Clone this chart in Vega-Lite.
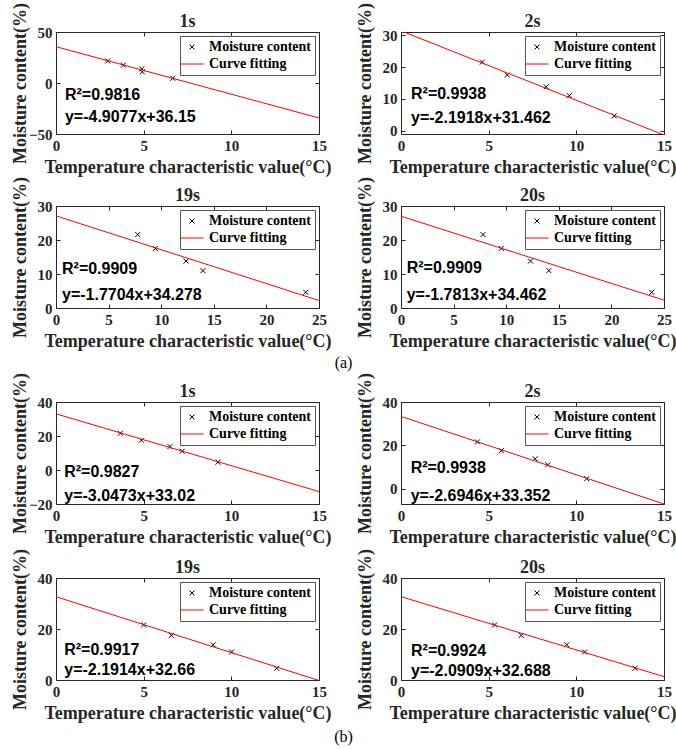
{
  "$schema": "https://vega.github.io/schema/vega-lite/v6.json",
  "padding": {"left": 10, "top": 1, "right": 2, "bottom": 2},
  "background": "white",
  "config": {
    "view": {"stroke": "#262626", "strokeWidth": 1},
    "axis": {"labelFont": "Liberation Serif", "labelFontWeight": "bold", "labelFontSize": 15, "labelColor": "#262626",
             "titleFont": "Liberation Serif", "titleFontWeight": "bold", "titleFontSize": 18, "titleColor": "#262626",
             "grid": false, "domain": false, "tickColor": "#262626", "tickSize": -4, "labelPadding": 8, "labelFlush": false, "labelOverlap": false},
    "axisLeft": {"minExtent": 24, "maxExtent": 24, "titlePadding": 3},
    "axisBottom": {"titlePadding": 5},
    "legend": {"orient": "top-right", "offset": 4, "padding": 4, "labelOffset": 9, "rowPadding": 2, "symbolStrokeWidth": 1,
               "strokeColor": "#555555", "fillColor": "white", "cornerRadius": 0,
               "labelFont": "Liberation Serif", "labelFontWeight": "bold", "labelFontSize": 14, "labelColor": "black"},
    "title": {"font": "Liberation Serif", "fontWeight": "bold", "fontSize": 18, "color": "#262626", "offset": -29, "anchor": "middle", "frame": "group"}
  },
  "datasets": {
    "points": [
      {"panel": "a1", "x": 2.95, "y": 21.6}, {"panel": "a1", "x": 3.84, "y": 17.5}, {"panel": "a1", "x": 4.89, "y": 13.8}, {"panel": "a1", "x": 4.92, "y": 11.0}, {"panel": "a1", "x": 6.66, "y": 4.6},
      {"panel": "a2", "x": 4.64, "y": 21.6}, {"panel": "a2", "x": 6.06, "y": 17.5}, {"panel": "a2", "x": 8.28, "y": 13.8}, {"panel": "a2", "x": 9.6, "y": 11.0}, {"panel": "a2", "x": 12.16, "y": 4.6},
      {"panel": "a3", "x": 7.77, "y": 21.6}, {"panel": "a3", "x": 9.44, "y": 17.5}, {"panel": "a3", "x": 12.36, "y": 13.8}, {"panel": "a3", "x": 13.97, "y": 11.0}, {"panel": "a3", "x": 23.74, "y": 4.6},
      {"panel": "a4", "x": 7.8, "y": 21.6}, {"panel": "a4", "x": 9.53, "y": 17.5}, {"panel": "a4", "x": 12.31, "y": 13.8}, {"panel": "a4", "x": 14.05, "y": 11.0}, {"panel": "a4", "x": 23.83, "y": 4.6},
      {"panel": "b1", "x": 3.67, "y": 21.6}, {"panel": "b1", "x": 4.87, "y": 17.5}, {"panel": "b1", "x": 6.5, "y": 13.8}, {"panel": "b1", "x": 7.19, "y": 11.0}, {"panel": "b1", "x": 9.24, "y": 4.6},
      {"panel": "b2", "x": 4.36, "y": 21.6}, {"panel": "b2", "x": 5.72, "y": 17.5}, {"panel": "b2", "x": 7.65, "y": 13.8}, {"panel": "b2", "x": 8.37, "y": 11.0}, {"panel": "b2", "x": 10.59, "y": 4.6},
      {"panel": "b3", "x": 5.0, "y": 21.6}, {"panel": "b3", "x": 6.58, "y": 17.5}, {"panel": "b3", "x": 8.97, "y": 13.8}, {"panel": "b3", "x": 10.02, "y": 11.0}, {"panel": "b3", "x": 12.59, "y": 4.6},
      {"panel": "b4", "x": 5.34, "y": 21.6}, {"panel": "b4", "x": 6.86, "y": 17.5}, {"panel": "b4", "x": 9.45, "y": 13.8}, {"panel": "b4", "x": 10.47, "y": 11.0}, {"panel": "b4", "x": 13.35, "y": 4.6}
    ],
    "fit": [
      {"panel": "a1", "x": 0, "y": 35.6}, {"panel": "a1", "x": 15, "y": -34.3},
      {"panel": "a2", "x": 0, "y": 31.46}, {"panel": "a2", "x": 15, "y": -1.42},
      {"panel": "a3", "x": 0, "y": 27.1}, {"panel": "a3", "x": 25, "y": 2.2},
      {"panel": "a4", "x": 0, "y": 27.0}, {"panel": "a4", "x": 25, "y": 2.3},
      {"panel": "b1", "x": 0, "y": 33.02}, {"panel": "b1", "x": 15, "y": -12.69},
      {"panel": "b2", "x": 0, "y": 33.35}, {"panel": "b2", "x": 15, "y": -7.07},
      {"panel": "b3", "x": 0, "y": 32.66}, {"panel": "b3", "x": 15, "y": -0.21},
      {"panel": "b4", "x": 0, "y": 32.69}, {"panel": "b4", "x": 15, "y": 1.32}
    ],
    "notes": [
      {"panel": "a1", "r2": "R²=0.9816", "eq": "y=-4.9077x+36.15"},
      {"panel": "a2", "r2": "R²=0.9938", "eq": "y=-2.1918x+31.462"},
      {"panel": "a3", "r2": "R²=0.9909", "eq": "y=-1.7704x+34.278"},
      {"panel": "a4", "r2": "R²=0.9909", "eq": "y=-1.7813x+34.462"},
      {"panel": "b1", "r2": "R²=0.9827", "eq": "y=-3.0473x+33.02"},
      {"panel": "b2", "r2": "R²=0.9938", "eq": "y=-2.6946x+33.352"},
      {"panel": "b3", "r2": "R²=0.9917", "eq": "y=-2.1914x+32.66"},
      {"panel": "b4", "r2": "R²=0.9924", "eq": "y=-2.0909x+32.688"}
    ]
  },
  "resolve": {"scale": {"color": "independent", "shape": "independent", "size": "independent"}, "legend": {"color": "independent", "shape": "independent", "size": "independent"}},
  "spacing": 0,
  "vconcat": [
    {
      "title": {"text": "(a)", "orient": "bottom", "anchor": "middle", "frame": "bounds", "font": "Liberation Serif", "fontWeight": "normal", "fontSize": 16, "color": "black", "offset": 4},
      "columns": 2,
      "spacing": {"row": -2, "column": 23},
      "resolve": {"scale": {"color": "independent", "shape": "independent", "size": "independent"}, "legend": {"color": "independent", "shape": "independent", "size": "independent"}},
      "concat": [
        {
          "title": "1s", "width": 263, "height": 102,
          "layer": [
            {"data": {"name": "points"}, "transform": [{"filter": "datum.panel === 'a1'"}],
             "mark": {"type": "point", "filled": false, "strokeWidth": 1, "opacity": 1},
             "encoding": {
               "x": {"field": "x", "type": "quantitative", "scale": {"domain": [0, 15], "nice": false, "zero": false}, "axis": {"orient": "bottom", "values": [0, 5, 10, 15], "title": "Temperature characteristic value(°C)"}},
               "y": {"field": "y", "type": "quantitative", "scale": {"domain": [-50, 50], "nice": false, "zero": false}, "axis": {"orient": "left", "values": [-50, 0, 50], "title": "Moisture content(%)"}},
               "color": {"datum": "Moisture content", "type": "nominal", "scale": {"domain": ["Moisture content", "Curve fitting"], "range": ["black", "#ff0000"]}, "legend": {"title": null}},
               "shape": {"datum": "Moisture content", "type": "nominal", "scale": {"domain": ["Moisture content", "Curve fitting"], "range": ["M-1,-1L1,1M-1,1L1,-1", "M-1.55,0L1.55,0"]}, "legend": {"title": null}},
               "size": {"datum": "Moisture content", "type": "ordinal", "scale": {"domain": ["Moisture content", "Curve fitting"], "range": [25, 225]}, "legend": {"title": null}}
             }},
            {"data": {"name": "fit"}, "transform": [{"filter": "datum.panel === 'a1'"}],
             "mark": {"type": "line", "clip": true, "strokeWidth": 1},
             "encoding": {
               "x": {"field": "x", "type": "quantitative", "axis": {"orient": "top", "values": [0, 5, 10, 15], "labels": false, "title": null}},
               "y": {"field": "y", "type": "quantitative", "axis": {"orient": "right", "values": [-50, 0, 50], "labels": false, "title": null}},
               "color": {"datum": "Curve fitting", "type": "nominal"}
             }},
            {"data": {"name": "notes"}, "transform": [{"filter": "datum.panel === 'a1'"}],
             "mark": {"type": "text", "align": "left", "baseline": "middle", "font": "Liberation Sans", "fontWeight": "bold", "fontSize": 16, "color": "black"},
             "encoding": {"x": {"datum": 0.51, "type": "quantitative", "axis": null}, "y": {"datum": -11.5, "type": "quantitative", "axis": null}, "text": {"field": "r2"}}},
            {"data": {"name": "notes"}, "transform": [{"filter": "datum.panel === 'a1'"}],
             "mark": {"type": "text", "align": "left", "baseline": "middle", "font": "Liberation Sans", "fontWeight": "bold", "fontSize": 16, "color": "black"},
             "encoding": {"x": {"datum": 0.51, "type": "quantitative", "axis": null}, "y": {"datum": -33.6, "type": "quantitative", "axis": null}, "text": {"field": "eq"}}}
          ]
        },
        {
          "title": "2s", "width": 263, "height": 102,
          "layer": [
            {"data": {"name": "points"}, "transform": [{"filter": "datum.panel === 'a2'"}],
             "mark": {"type": "point", "filled": false, "strokeWidth": 1, "opacity": 1},
             "encoding": {
               "x": {"field": "x", "type": "quantitative", "scale": {"domain": [0, 15], "nice": false, "zero": false}, "axis": {"orient": "bottom", "values": [0, 5, 10, 15], "title": "Temperature characteristic value(°C)"}},
               "y": {"field": "y", "type": "quantitative", "scale": {"domain": [-1.1, 31.1], "nice": false, "zero": false}, "axis": {"orient": "left", "values": [0, 10, 20, 30], "title": "Moisture content(%)"}},
               "color": {"datum": "Moisture content", "type": "nominal", "scale": {"domain": ["Moisture content", "Curve fitting"], "range": ["black", "#ff0000"]}, "legend": {"title": null}},
               "shape": {"datum": "Moisture content", "type": "nominal", "scale": {"domain": ["Moisture content", "Curve fitting"], "range": ["M-1,-1L1,1M-1,1L1,-1", "M-1.55,0L1.55,0"]}, "legend": {"title": null}},
               "size": {"datum": "Moisture content", "type": "ordinal", "scale": {"domain": ["Moisture content", "Curve fitting"], "range": [25, 225]}, "legend": {"title": null}}
             }},
            {"data": {"name": "fit"}, "transform": [{"filter": "datum.panel === 'a2'"}],
             "mark": {"type": "line", "clip": true, "strokeWidth": 1},
             "encoding": {
               "x": {"field": "x", "type": "quantitative", "axis": {"orient": "top", "values": [0, 5, 10, 15], "labels": false, "title": null}},
               "y": {"field": "y", "type": "quantitative", "axis": {"orient": "right", "values": [0, 10, 20, 30], "labels": false, "title": null}},
               "color": {"datum": "Curve fitting", "type": "nominal"}
             }},
            {"data": {"name": "notes"}, "transform": [{"filter": "datum.panel === 'a2'"}],
             "mark": {"type": "text", "align": "left", "baseline": "middle", "font": "Liberation Sans", "fontWeight": "bold", "fontSize": 16, "color": "black"},
             "encoding": {"x": {"datum": 0.57, "type": "quantitative", "axis": null}, "y": {"datum": 11.55, "type": "quantitative", "axis": null}, "text": {"field": "r2"}}},
            {"data": {"name": "notes"}, "transform": [{"filter": "datum.panel === 'a2'"}],
             "mark": {"type": "text", "align": "left", "baseline": "middle", "font": "Liberation Sans", "fontWeight": "bold", "fontSize": 16, "color": "black"},
             "encoding": {"x": {"datum": 0.57, "type": "quantitative", "axis": null}, "y": {"datum": 3.93, "type": "quantitative", "axis": null}, "text": {"field": "eq"}}}
          ]
        },
        {
          "title": "19s", "width": 263, "height": 102,
          "layer": [
            {"data": {"name": "points"}, "transform": [{"filter": "datum.panel === 'a3'"}],
             "mark": {"type": "point", "filled": false, "strokeWidth": 1, "opacity": 1},
             "encoding": {
               "x": {"field": "x", "type": "quantitative", "scale": {"domain": [0, 25], "nice": false, "zero": false}, "axis": {"orient": "bottom", "values": [0, 5, 10, 15, 20, 25], "title": "Temperature characteristic value(°C)"}},
               "y": {"field": "y", "type": "quantitative", "scale": {"domain": [0, 30], "nice": false, "zero": false}, "axis": {"orient": "left", "values": [0, 10, 20, 30], "title": "Moisture content(%)"}},
               "color": {"datum": "Moisture content", "type": "nominal", "scale": {"domain": ["Moisture content", "Curve fitting"], "range": ["black", "#ff0000"]}, "legend": {"title": null}},
               "shape": {"datum": "Moisture content", "type": "nominal", "scale": {"domain": ["Moisture content", "Curve fitting"], "range": ["M-1,-1L1,1M-1,1L1,-1", "M-1.55,0L1.55,0"]}, "legend": {"title": null}},
               "size": {"datum": "Moisture content", "type": "ordinal", "scale": {"domain": ["Moisture content", "Curve fitting"], "range": [25, 225]}, "legend": {"title": null}}
             }},
            {"data": {"name": "fit"}, "transform": [{"filter": "datum.panel === 'a3'"}],
             "mark": {"type": "line", "clip": true, "strokeWidth": 1},
             "encoding": {
               "x": {"field": "x", "type": "quantitative", "axis": {"orient": "top", "values": [0, 5, 10, 15, 20, 25], "labels": false, "title": null}},
               "y": {"field": "y", "type": "quantitative", "axis": {"orient": "right", "values": [0, 10, 20, 30], "labels": false, "title": null}},
               "color": {"datum": "Curve fitting", "type": "nominal"}
             }},
            {"data": {"name": "notes"}, "transform": [{"filter": "datum.panel === 'a3'"}],
             "mark": {"type": "text", "align": "left", "baseline": "middle", "font": "Liberation Sans", "fontWeight": "bold", "fontSize": 16, "color": "black"},
             "encoding": {"x": {"datum": 0.57, "type": "quantitative", "axis": null}, "y": {"datum": 11.56, "type": "quantitative", "axis": null}, "text": {"field": "r2"}}},
            {"data": {"name": "notes"}, "transform": [{"filter": "datum.panel === 'a3'"}],
             "mark": {"type": "text", "align": "left", "baseline": "middle", "font": "Liberation Sans", "fontWeight": "bold", "fontSize": 16, "color": "black"},
             "encoding": {"x": {"datum": 0.57, "type": "quantitative", "axis": null}, "y": {"datum": 3.79, "type": "quantitative", "axis": null}, "text": {"field": "eq"}}}
          ]
        },
        {
          "title": "20s", "width": 263, "height": 102,
          "layer": [
            {"data": {"name": "points"}, "transform": [{"filter": "datum.panel === 'a4'"}],
             "mark": {"type": "point", "filled": false, "strokeWidth": 1, "opacity": 1},
             "encoding": {
               "x": {"field": "x", "type": "quantitative", "scale": {"domain": [0, 25], "nice": false, "zero": false}, "axis": {"orient": "bottom", "values": [0, 5, 10, 15, 20, 25], "title": "Temperature characteristic value(°C)"}},
               "y": {"field": "y", "type": "quantitative", "scale": {"domain": [0, 30], "nice": false, "zero": false}, "axis": {"orient": "left", "values": [0, 10, 20, 30], "title": "Moisture content(%)"}},
               "color": {"datum": "Moisture content", "type": "nominal", "scale": {"domain": ["Moisture content", "Curve fitting"], "range": ["black", "#ff0000"]}, "legend": {"title": null}},
               "shape": {"datum": "Moisture content", "type": "nominal", "scale": {"domain": ["Moisture content", "Curve fitting"], "range": ["M-1,-1L1,1M-1,1L1,-1", "M-1.55,0L1.55,0"]}, "legend": {"title": null}},
               "size": {"datum": "Moisture content", "type": "ordinal", "scale": {"domain": ["Moisture content", "Curve fitting"], "range": [25, 225]}, "legend": {"title": null}}
             }},
            {"data": {"name": "fit"}, "transform": [{"filter": "datum.panel === 'a4'"}],
             "mark": {"type": "line", "clip": true, "strokeWidth": 1},
             "encoding": {
               "x": {"field": "x", "type": "quantitative", "axis": {"orient": "top", "values": [0, 5, 10, 15, 20, 25], "labels": false, "title": null}},
               "y": {"field": "y", "type": "quantitative", "axis": {"orient": "right", "values": [0, 10, 20, 30], "labels": false, "title": null}},
               "color": {"datum": "Curve fitting", "type": "nominal"}
             }},
            {"data": {"name": "notes"}, "transform": [{"filter": "datum.panel === 'a4'"}],
             "mark": {"type": "text", "align": "left", "baseline": "middle", "font": "Liberation Sans", "fontWeight": "bold", "fontSize": 16, "color": "black"},
             "encoding": {"x": {"datum": 0.54, "type": "quantitative", "axis": null}, "y": {"datum": 11.85, "type": "quantitative", "axis": null}, "text": {"field": "r2"}}},
            {"data": {"name": "notes"}, "transform": [{"filter": "datum.panel === 'a4'"}],
             "mark": {"type": "text", "align": "left", "baseline": "middle", "font": "Liberation Sans", "fontWeight": "bold", "fontSize": 16, "color": "black"},
             "encoding": {"x": {"datum": 0.54, "type": "quantitative", "axis": null}, "y": {"datum": 3.79, "type": "quantitative", "axis": null}, "text": {"field": "eq"}}}
          ]
        }
      ]
    },
    {
      "title": {"text": "(b)", "orient": "bottom", "anchor": "middle", "frame": "bounds", "font": "Liberation Serif", "fontWeight": "normal", "fontSize": 16, "color": "black", "offset": 6},
      "columns": 2,
      "spacing": {"row": 0, "column": 23},
      "resolve": {"scale": {"color": "independent", "shape": "independent", "size": "independent"}, "legend": {"color": "independent", "shape": "independent", "size": "independent"}},
      "concat": [
        {
          "title": "1s", "width": 263, "height": 102,
          "layer": [
            {"data": {"name": "points"}, "transform": [{"filter": "datum.panel === 'b1'"}],
             "mark": {"type": "point", "filled": false, "strokeWidth": 1, "opacity": 1},
             "encoding": {
               "x": {"field": "x", "type": "quantitative", "scale": {"domain": [0, 15], "nice": false, "zero": false}, "axis": {"orient": "bottom", "values": [0, 5, 10, 15], "title": "Temperature characteristic value(°C)"}},
               "y": {"field": "y", "type": "quantitative", "scale": {"domain": [-20, 40], "nice": false, "zero": false}, "axis": {"orient": "left", "values": [-20, 0, 20, 40], "title": "Moisture content(%)"}},
               "color": {"datum": "Moisture content", "type": "nominal", "scale": {"domain": ["Moisture content", "Curve fitting"], "range": ["black", "#ff0000"]}, "legend": {"title": null}},
               "shape": {"datum": "Moisture content", "type": "nominal", "scale": {"domain": ["Moisture content", "Curve fitting"], "range": ["M-1,-1L1,1M-1,1L1,-1", "M-1.55,0L1.55,0"]}, "legend": {"title": null}},
               "size": {"datum": "Moisture content", "type": "ordinal", "scale": {"domain": ["Moisture content", "Curve fitting"], "range": [25, 225]}, "legend": {"title": null}}
             }},
            {"data": {"name": "fit"}, "transform": [{"filter": "datum.panel === 'b1'"}],
             "mark": {"type": "line", "clip": true, "strokeWidth": 1},
             "encoding": {
               "x": {"field": "x", "type": "quantitative", "axis": {"orient": "top", "values": [0, 5, 10, 15], "labels": false, "title": null}},
               "y": {"field": "y", "type": "quantitative", "axis": {"orient": "right", "values": [-20, 0, 20, 40], "labels": false, "title": null}},
               "color": {"datum": "Curve fitting", "type": "nominal"}
             }},
            {"data": {"name": "notes"}, "transform": [{"filter": "datum.panel === 'b1'"}],
             "mark": {"type": "text", "align": "left", "baseline": "middle", "font": "Liberation Sans", "fontWeight": "bold", "fontSize": 16, "color": "black"},
             "encoding": {"x": {"datum": 0.47, "type": "quantitative", "axis": null}, "y": {"datum": -0.95, "type": "quantitative", "axis": null}, "text": {"field": "r2"}}},
            {"data": {"name": "notes"}, "transform": [{"filter": "datum.panel === 'b1'"}],
             "mark": {"type": "text", "align": "left", "baseline": "middle", "font": "Liberation Sans", "fontWeight": "bold", "fontSize": 16, "color": "black"},
             "encoding": {"x": {"datum": 0.47, "type": "quantitative", "axis": null}, "y": {"datum": -15.2, "type": "quantitative", "axis": null}, "text": {"field": "eq"}}}
          ]
        },
        {
          "title": "2s", "width": 263, "height": 102,
          "layer": [
            {"data": {"name": "points"}, "transform": [{"filter": "datum.panel === 'b2'"}],
             "mark": {"type": "point", "filled": false, "strokeWidth": 1, "opacity": 1},
             "encoding": {
               "x": {"field": "x", "type": "quantitative", "scale": {"domain": [0, 15], "nice": false, "zero": false}, "axis": {"orient": "bottom", "values": [0, 5, 10, 15], "title": "Temperature characteristic value(°C)"}},
               "y": {"field": "y", "type": "quantitative", "scale": {"domain": [-7.07, 40], "nice": false, "zero": false}, "axis": {"orient": "left", "values": [0, 20, 40], "title": "Moisture content(%)"}},
               "color": {"datum": "Moisture content", "type": "nominal", "scale": {"domain": ["Moisture content", "Curve fitting"], "range": ["black", "#ff0000"]}, "legend": {"title": null}},
               "shape": {"datum": "Moisture content", "type": "nominal", "scale": {"domain": ["Moisture content", "Curve fitting"], "range": ["M-1,-1L1,1M-1,1L1,-1", "M-1.55,0L1.55,0"]}, "legend": {"title": null}},
               "size": {"datum": "Moisture content", "type": "ordinal", "scale": {"domain": ["Moisture content", "Curve fitting"], "range": [25, 225]}, "legend": {"title": null}}
             }},
            {"data": {"name": "fit"}, "transform": [{"filter": "datum.panel === 'b2'"}],
             "mark": {"type": "line", "clip": true, "strokeWidth": 1},
             "encoding": {
               "x": {"field": "x", "type": "quantitative", "axis": {"orient": "top", "values": [0, 5, 10, 15], "labels": false, "title": null}},
               "y": {"field": "y", "type": "quantitative", "axis": {"orient": "right", "values": [0, 20, 40], "labels": false, "title": null}},
               "color": {"datum": "Curve fitting", "type": "nominal"}
             }},
            {"data": {"name": "notes"}, "transform": [{"filter": "datum.panel === 'b2'"}],
             "mark": {"type": "text", "align": "left", "baseline": "middle", "font": "Liberation Sans", "fontWeight": "bold", "fontSize": 16, "color": "black"},
             "encoding": {"x": {"datum": 0.55, "type": "quantitative", "axis": null}, "y": {"datum": 9.38, "type": "quantitative", "axis": null}, "text": {"field": "r2"}}},
            {"data": {"name": "notes"}, "transform": [{"filter": "datum.panel === 'b2'"}],
             "mark": {"type": "text", "align": "left", "baseline": "middle", "font": "Liberation Sans", "fontWeight": "bold", "fontSize": 16, "color": "black"},
             "encoding": {"x": {"datum": 0.55, "type": "quantitative", "axis": null}, "y": {"datum": -3.28, "type": "quantitative", "axis": null}, "text": {"field": "eq"}}}
          ]
        },
        {
          "title": "19s", "width": 263, "height": 102,
          "layer": [
            {"data": {"name": "points"}, "transform": [{"filter": "datum.panel === 'b3'"}],
             "mark": {"type": "point", "filled": false, "strokeWidth": 1, "opacity": 1},
             "encoding": {
               "x": {"field": "x", "type": "quantitative", "scale": {"domain": [0, 15], "nice": false, "zero": false}, "axis": {"orient": "bottom", "values": [0, 5, 10, 15], "title": "Temperature characteristic value(°C)"}},
               "y": {"field": "y", "type": "quantitative", "scale": {"domain": [0, 40], "nice": false, "zero": false}, "axis": {"orient": "left", "values": [0, 20, 40], "title": "Moisture content(%)"}},
               "color": {"datum": "Moisture content", "type": "nominal", "scale": {"domain": ["Moisture content", "Curve fitting"], "range": ["black", "#ff0000"]}, "legend": {"title": null}},
               "shape": {"datum": "Moisture content", "type": "nominal", "scale": {"domain": ["Moisture content", "Curve fitting"], "range": ["M-1,-1L1,1M-1,1L1,-1", "M-1.55,0L1.55,0"]}, "legend": {"title": null}},
               "size": {"datum": "Moisture content", "type": "ordinal", "scale": {"domain": ["Moisture content", "Curve fitting"], "range": [25, 225]}, "legend": {"title": null}}
             }},
            {"data": {"name": "fit"}, "transform": [{"filter": "datum.panel === 'b3'"}],
             "mark": {"type": "line", "clip": true, "strokeWidth": 1},
             "encoding": {
               "x": {"field": "x", "type": "quantitative", "axis": {"orient": "top", "values": [0, 5, 10, 15], "labels": false, "title": null}},
               "y": {"field": "y", "type": "quantitative", "axis": {"orient": "right", "values": [0, 20, 40], "labels": false, "title": null}},
               "color": {"datum": "Curve fitting", "type": "nominal"}
             }},
            {"data": {"name": "notes"}, "transform": [{"filter": "datum.panel === 'b3'"}],
             "mark": {"type": "text", "align": "left", "baseline": "middle", "font": "Liberation Sans", "fontWeight": "bold", "fontSize": 16, "color": "black"},
             "encoding": {"x": {"datum": 0.47, "type": "quantitative", "axis": null}, "y": {"datum": 11.76, "type": "quantitative", "axis": null}, "text": {"field": "r2"}}},
            {"data": {"name": "notes"}, "transform": [{"filter": "datum.panel === 'b3'"}],
             "mark": {"type": "text", "align": "left", "baseline": "middle", "font": "Liberation Sans", "fontWeight": "bold", "fontSize": 16, "color": "black"},
             "encoding": {"x": {"datum": 0.47, "type": "quantitative", "axis": null}, "y": {"datum": 3.92, "type": "quantitative", "axis": null}, "text": {"field": "eq"}}}
          ]
        },
        {
          "title": "20s", "width": 263, "height": 102,
          "layer": [
            {"data": {"name": "points"}, "transform": [{"filter": "datum.panel === 'b4'"}],
             "mark": {"type": "point", "filled": false, "strokeWidth": 1, "opacity": 1},
             "encoding": {
               "x": {"field": "x", "type": "quantitative", "scale": {"domain": [0, 15], "nice": false, "zero": false}, "axis": {"orient": "bottom", "values": [0, 5, 10, 15], "title": "Temperature characteristic value(°C)"}},
               "y": {"field": "y", "type": "quantitative", "scale": {"domain": [0, 40], "nice": false, "zero": false}, "axis": {"orient": "left", "values": [0, 20, 40], "title": "Moisture content(%)"}},
               "color": {"datum": "Moisture content", "type": "nominal", "scale": {"domain": ["Moisture content", "Curve fitting"], "range": ["black", "#ff0000"]}, "legend": {"title": null}},
               "shape": {"datum": "Moisture content", "type": "nominal", "scale": {"domain": ["Moisture content", "Curve fitting"], "range": ["M-1,-1L1,1M-1,1L1,-1", "M-1.55,0L1.55,0"]}, "legend": {"title": null}},
               "size": {"datum": "Moisture content", "type": "ordinal", "scale": {"domain": ["Moisture content", "Curve fitting"], "range": [25, 225]}, "legend": {"title": null}}
             }},
            {"data": {"name": "fit"}, "transform": [{"filter": "datum.panel === 'b4'"}],
             "mark": {"type": "line", "clip": true, "strokeWidth": 1},
             "encoding": {
               "x": {"field": "x", "type": "quantitative", "axis": {"orient": "top", "values": [0, 5, 10, 15], "labels": false, "title": null}},
               "y": {"field": "y", "type": "quantitative", "axis": {"orient": "right", "values": [0, 20, 40], "labels": false, "title": null}},
               "color": {"datum": "Curve fitting", "type": "nominal"}
             }},
            {"data": {"name": "notes"}, "transform": [{"filter": "datum.panel === 'b4'"}],
             "mark": {"type": "text", "align": "left", "baseline": "middle", "font": "Liberation Sans", "fontWeight": "bold", "fontSize": 16, "color": "black"},
             "encoding": {"x": {"datum": 0.57, "type": "quantitative", "axis": null}, "y": {"datum": 11.4, "type": "quantitative", "axis": null}, "text": {"field": "r2"}}},
            {"data": {"name": "notes"}, "transform": [{"filter": "datum.panel === 'b4'"}],
             "mark": {"type": "text", "align": "left", "baseline": "middle", "font": "Liberation Sans", "fontWeight": "bold", "fontSize": 16, "color": "black"},
             "encoding": {"x": {"datum": 0.57, "type": "quantitative", "axis": null}, "y": {"datum": 3.53, "type": "quantitative", "axis": null}, "text": {"field": "eq"}}}
          ]
        }
      ]
    }
  ]
}
